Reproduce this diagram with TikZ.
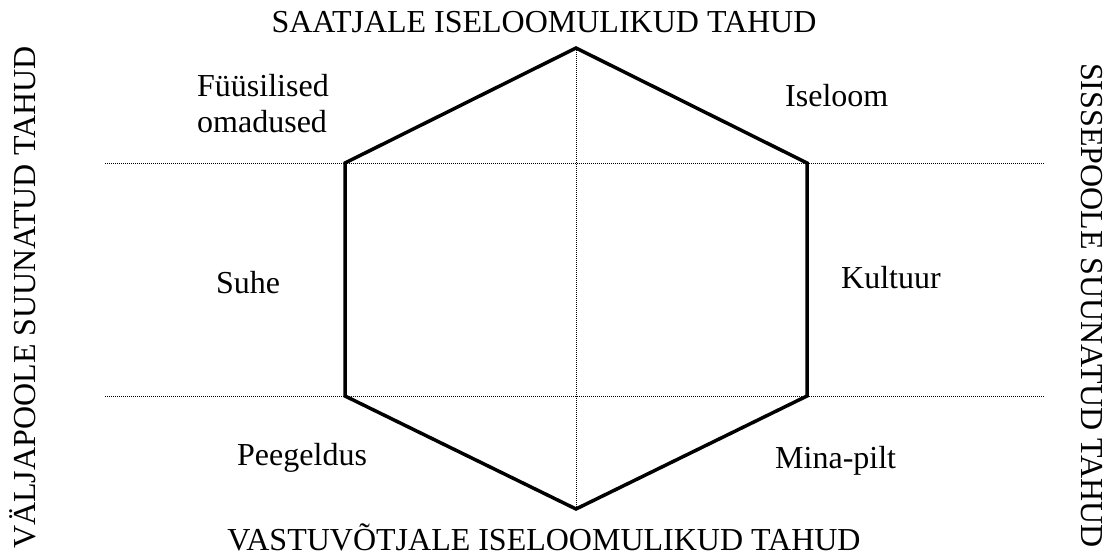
\documentclass[tikz,border=0pt]{standalone}
\usepackage{fontspec}
\setmainfont{Liberation Serif}
\begin{document}
\begin{tikzpicture}[x=1pt,y=-1pt,
  lbl/.style={inner sep=0pt, font=\fontsize{32}{36}\selectfont},
  hexline/.style={line width=3.5pt, line join=miter},
  guide/.style={line width=0.9pt, dash pattern=on 1pt off 1pt}]
\useasboundingbox (0,0) rectangle (1118,556);
% hexagon vertices
\coordinate (T) at (576,48);
\coordinate (UR) at (807,163);
\coordinate (LR) at (807,396);
\coordinate (B) at (576,509);
\coordinate (LL) at (345,396);
\coordinate (UL) at (345,163);
% guide line ends
\coordinate (gUL) at (105,163);
\coordinate (gUR) at (1045,163);
\coordinate (gLL) at (105,396);
\coordinate (gLR) at (1045,396);
\draw[guide] (gUL) -- (gUR);
\draw[guide] (gLL) -- (gLR);
\draw[guide] (T) -- (B);
\draw[hexline] (T) -- (UR) -- (LR) -- (B) -- (LL) -- (UL) -- cycle;
% labels
\node[lbl, anchor=base] (top) at (544,33) {SAATJALE ISELOOMULIKUD TAHUD};
\node[lbl, anchor=base] (bot) at (544,550) {VASTUVÕTJALE ISELOOMULIKUD TAHUD};
\node[lbl, anchor=base west, rotate=90] (left) at (35,549) {VÄLJAPOOLE SUUNATUD TAHUD};
\node[lbl, anchor=base west, rotate=-90] (right) at (1081,63) {SISSEPOOLE SUUNATUD TAHUD};
\node[lbl, anchor=base west] (fy1) at (197,97) {Füüsilised};
\node[lbl, anchor=base west] (fy2) at (197,133) {omadused};
\node[lbl, anchor=base west] (ise) at (785,107) {Iseloom};
\node[lbl, anchor=base west] (suhe) at (216,293) {Suhe};
\node[lbl, anchor=base west] (kul) at (841,288) {Kultuur};
\node[lbl, anchor=base west] (pee) at (237,465) {Peegeldus};
\node[lbl, anchor=base west] (min) at (775,468) {Mina-pilt};
\end{tikzpicture}
\end{document}
